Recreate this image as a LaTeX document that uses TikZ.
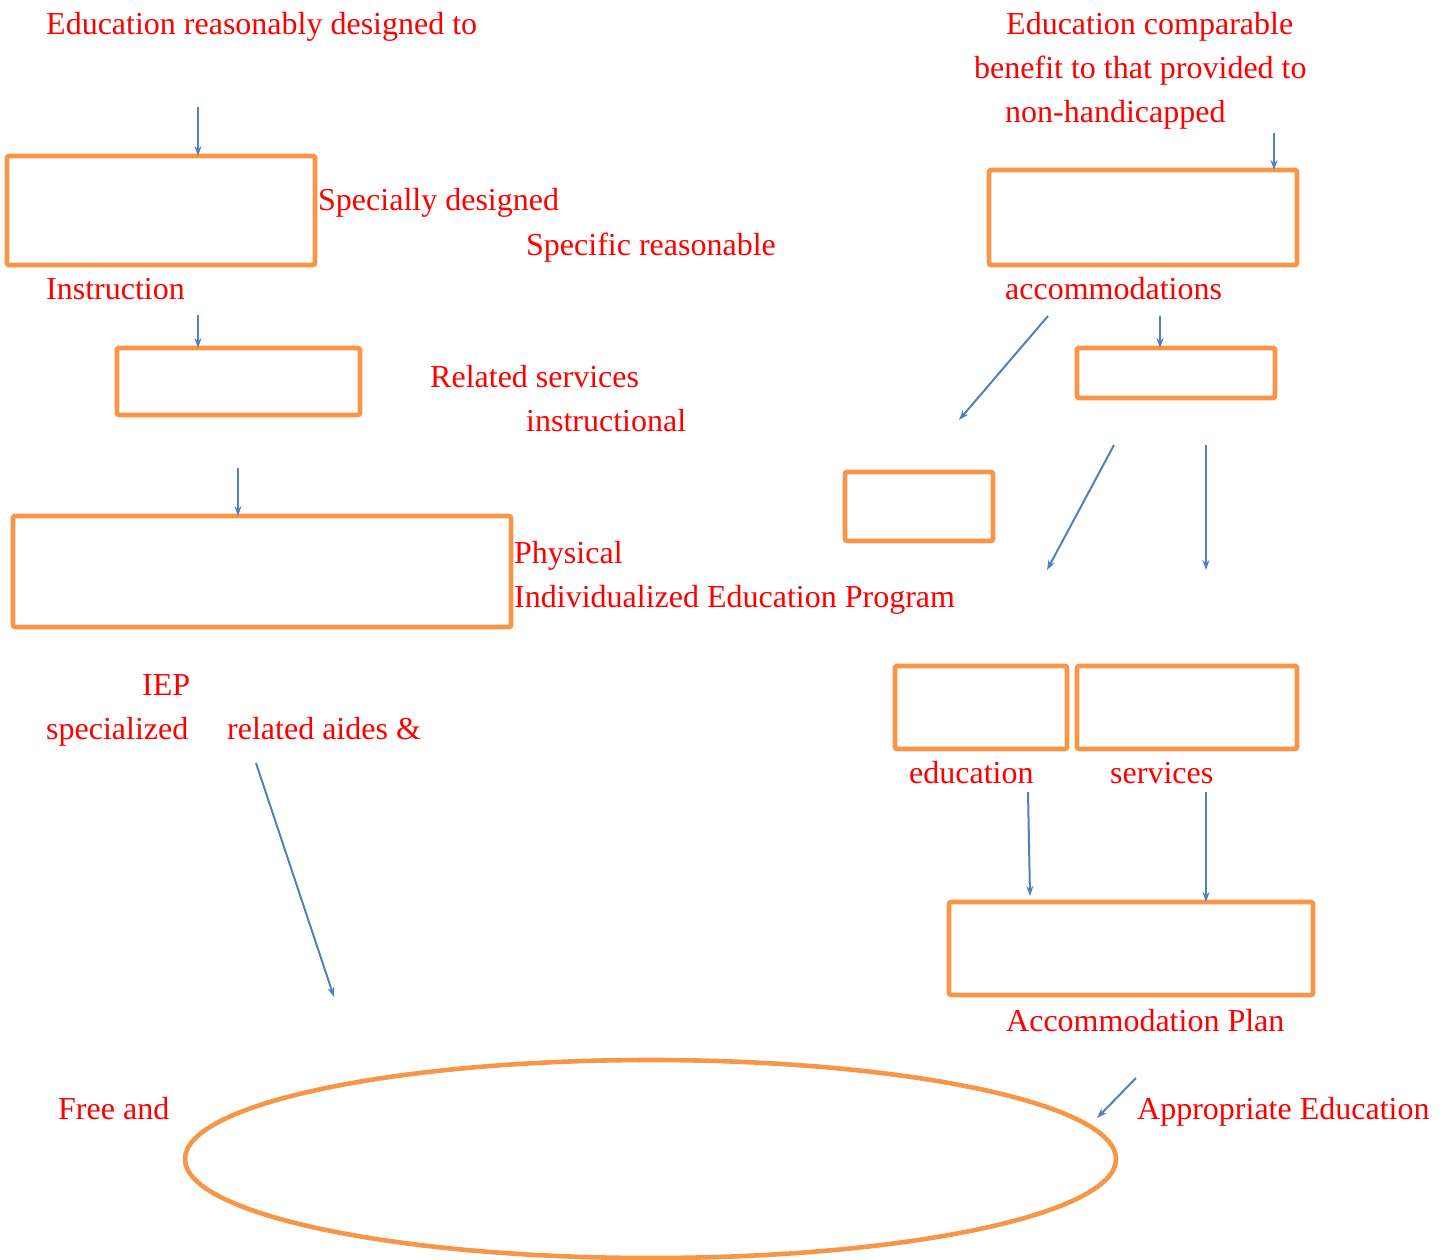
\documentclass[tikz,border=0pt]{standalone}
\usepackage{fontspec}
\setmainfont{Liberation Serif}
\usetikzlibrary{arrows.meta}
\definecolor{boxorange}{HTML}{F79646}
\definecolor{arrowblue}{HTML}{4F81BD}
\begin{document}
\begin{tikzpicture}[x=1pt,y=-1pt,
  lbl/.style={anchor=base west,inner sep=0pt,text=red,font=\fontsize{32}{44}\selectfont},
  obox/.style={draw=boxorange,line width=4.6pt,rounded corners=2pt},
  flow/.style={draw=arrowblue,line width=2pt,-{Stealth[length=10pt,width=7pt]}}]
\useasboundingbox (0,0) rectangle (1445,1260);

% orange boxes
\draw[obox] (7,156) rectangle (315,265);   \coordinate (b1n) at (161,156);
\draw[obox] (117,348) rectangle (360,415); \coordinate (b2n) at (238,348);
\draw[obox] (13,516) rectangle (511,627);  \coordinate (b3n) at (262,516);
\draw[obox] (989,170) rectangle (1297,265); \coordinate (b4n) at (1143,170);
\draw[obox] (1077,348) rectangle (1275,398); \coordinate (b5n) at (1176,348);
\draw[obox] (845,472) rectangle (993,541);
\draw[obox] (895,666) rectangle (1067,749);
\draw[obox] (1077,666) rectangle (1297,749);
\draw[obox] (949,902) rectangle (1313,995); \coordinate (b9n) at (1131,902);
\draw[obox] (650.5,1159) ellipse [x radius=465.5, y radius=99];

% labels
\node[lbl] (t1) at (46,35) {Education reasonably designed to};
\node[lbl] (t2) at (1006,35) {Education comparable};
\node[lbl] (t3) at (974,79) {benefit to that provided to};
\node[lbl] (t4) at (1005,123) {non-handicapped};
\node[lbl] (t5) at (318,211) {Specially designed};
\node[lbl] (t6) at (526,255) {Specific reasonable};
\node[lbl] (t7) at (46,299) {Instruction};
\node[lbl] (t8) at (1005,299) {accommodations};
\node[lbl] (t9) at (430,387) {Related services};
\node[lbl] (t10) at (526,431) {instructional};
\node[lbl] (t11) at (514,563) {Physical};
\node[lbl] (t12) at (514,607) {Individualized Education Program};
\node[lbl] (t13) at (142,695) {IEP};
\node[lbl] (t14) at (46,739) {specialized};
\node[lbl] (t15) at (227,739) {related aides \&};
\node[lbl] (t16) at (909,783) {education};
\node[lbl] (t17) at (1110,783) {services};
\node[lbl] (t18) at (1006,1031) {Accommodation Plan};
\node[lbl] (t19) at (58,1119) {Free and};
\node[lbl] (t20) at (1137,1119) {Appropriate Education};

% connector ends
\coordinate (a1) at (198,107);
\coordinate (a2) at (198,315);
\coordinate (a3) at (238,468);
\coordinate (a4) at (1274,133);
\coordinate (a5) at (1160,316);
\coordinate (a6s) at (1048,316);  \coordinate (a6e) at (959,420);
\coordinate (a7s) at (1114,445);  \coordinate (a7e) at (1047,570);
\coordinate (a8s) at (1206,445);  \coordinate (a8e) at (1206,570);
\coordinate (a9s) at (1028,792);  \coordinate (a9e) at (1030,896);
\coordinate (a10) at (1206,792);
\coordinate (a11s) at (256,763);  \coordinate (a11e) at (334,997);
\coordinate (a12s) at (1136,1078); \coordinate (a12e) at (1097,1118);

% arrows
\draw[flow] (a1) -- (a1 |- b1n);
\draw[flow] (a2) -- (a2 |- b2n);
\draw[flow] (a3) -- (a3 |- b3n);
\draw[flow] (a4) -- (a4 |- b4n);
\draw[flow] (a5) -- (a5 |- b5n);
\draw[flow] (a6s) -- (a6e);
\draw[flow] (a7s) -- (a7e);
\draw[flow] (a8s) -- (a8e);
\draw[flow] (a9s) -- (a9e);
\draw[flow] (a10) -- (a10 |- b9n);
\draw[flow] (a11s) -- (a11e);
\draw[flow] (a12s) -- (a12e);
\end{tikzpicture}
\end{document}
